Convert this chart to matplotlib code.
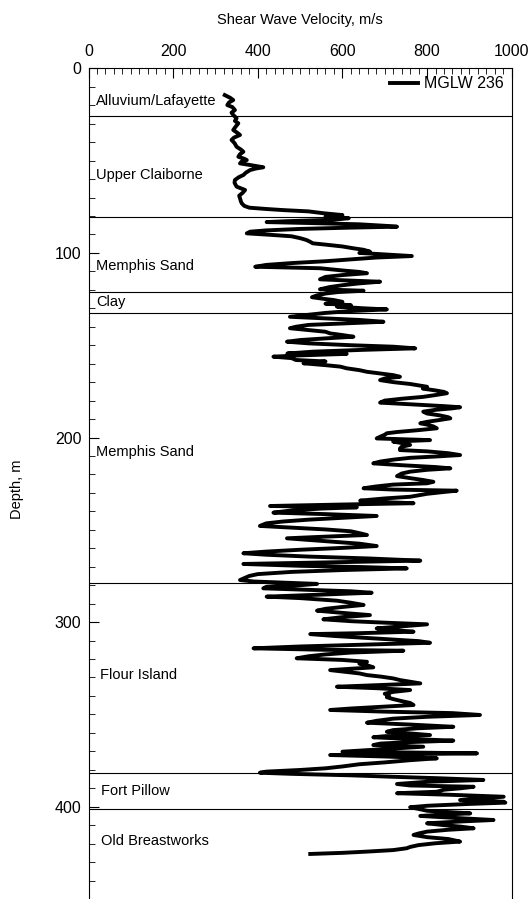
import matplotlib
matplotlib.use("Agg")
import matplotlib.pyplot as plt
from matplotlib.ticker import MultipleLocator

plt.rcParams['font.family'] = ['Liberation Sans', 'DejaVu Sans']

# shear wave velocity log, MGLW 236
depth_m = [
    14.5, 16, 17.2, 18.5, 19.9, 21, 22.6, 24, 25.3, 27,
    28.5, 29.8, 31.5, 33.4, 35, 36.1, 37.5, 38.8, 40.5, 42.5,
    44, 45.2, 46.5, 47.9, 49, 49.7, 50.5, 51.5, 52.5, 53.6,
    54.3, 55.1, 56.5, 57.8, 59, 60.5, 62, 64.1, 65.9, 67.5,
    69, 70.4, 72, 73.1, 74.5, 75.5, 76.2, 76.8, 77.5, 78.5,
    79.5, 80.3, 81.2, 82.0, 82.8, 83.3, 83.8, 84.5, 85.3, 85.8,
    86.3, 87, 87.8, 88.5, 89.4, 90.2, 91, 92, 93, 94,
    94.8, 95.5, 96.5, 97.5, 98.3, 99.3, 100, 100.8, 101.7, 102.5,
    103.5, 104.5, 105.5, 106.5, 107.5, 108.3, 109.5, 110.3, 111, 112,
    113, 114.3, 115, 115.6, 116.5, 117.5, 118.5, 119.7, 120.5, 121.2,
    122, 123, 124, 125, 125.5, 126.5, 127.5, 128.3, 129.1, 130,
    130.6, 131.5, 132.5, 133.5, 134.6, 135.5, 136.3, 137.3, 138.2, 139,
    140, 140.8, 141.8, 142.7, 143.6, 144.5, 145.4, 146.3, 147.2, 148.1,
    149, 150, 150.8, 151.7, 152.5, 153.5, 154.5, 154.7, 155.5, 156.2,
    157, 158, 158.8, 159.8, 160.8, 161.6, 162.5, 163.5, 164.4, 165.3,
    166.2, 167.1, 168, 168.9, 170, 171, 172.5, 173.5, 174.5, 175.3,
    176, 177, 178, 179, 180, 181.1, 182, 183, 183.6, 184.2,
    185, 186, 187, 188, 189, 189.6, 190.5, 191.5, 192.3, 193,
    194, 195, 196, 197, 197.7, 198.5, 199.5, 200.5, 201.4, 202.2,
    203, 204, 205, 206, 206.8, 207.5, 208.5, 209.5, 210.3, 211,
    212, 213, 214, 215, 216, 216.7, 217.5, 218.5, 219.5, 220.9,
    222, 223, 224, 224.8, 225.5, 226.5, 227.5, 228.2, 228.8, 229.5,
    230.5, 231.3, 232.1, 233, 234.2, 235, 235.6, 236.3, 237.1, 237.8,
    238.5, 239.5, 240.7, 241.5, 242.5, 243.5, 244.5, 245.5, 246.5, 247.9,
    248.8, 249.8, 250.8, 251.8, 252.8, 253.7, 254.6, 255.5, 256.5, 257.5,
    258.8, 259.8, 260.8, 261.8, 262.7, 263.5, 264.5, 265.5, 266.7, 267.5,
    268.5, 269.5, 270.2, 270.9, 271.8, 272.8, 274, 275, 276, 277.2,
    278, 279.3, 280, 280.8, 281.7, 282.5, 283.3, 284.1, 285, 286.2,
    287, 288.4, 289.5, 290.7, 291.8, 292.8, 293.8, 295, 296.2, 297.3,
    298.5, 299.5, 300.3, 301.2, 302.3, 303.4, 304.3, 305.2, 306, 306.5,
    307.5, 308.5, 309.5, 310.3, 311.2, 312.2, 313.2, 314.2, 315, 315.5,
    316.5, 317.5, 318.5, 319.6, 320.5, 321.5, 322.5, 323.5, 324.5, 325.3,
    326, 327, 327.8, 328.7, 329.5, 330.5, 331.4, 332.3, 333.2, 334,
    335, 335.8, 336.8, 337.8, 338.8, 339.8, 340.7, 341.7, 342.8, 343.8,
    344.9, 345.8, 346.8, 347.6, 348.5, 349.3, 350.3, 351.3, 352.3, 353.5,
    354.5, 355.5, 356.7, 357.5, 358.5, 359.4, 360.3, 361.2, 361.8, 362.4,
    363.3, 364.2, 365, 365.8, 366.6, 367.5, 368.5, 369.5, 370.2, 371.1,
    372, 372.8, 373.8, 374.8, 376, 377, 378.2, 379.2, 380.1, 381,
    381.6, 382.2, 383, 383.8, 384.6, 385.5, 386.5, 387.7, 388.5, 389.2,
    390, 390.8, 391.9, 392.7, 393.5, 394.6, 395.5, 396.4, 397.3, 397.8,
    398.5, 399.5, 400.3, 401.2, 402.2, 403, 403.6, 404.3, 405, 406,
    407.2, 408, 409, 410, 410.8, 411.7, 412.5, 413.5, 414.5, 415.3,
    416.5, 417.5, 418.9, 419.8, 420.8, 421.8, 422.5, 423.5, 424.3, 425,
    425.6,
]
vs_ms = [
    322, 335, 342, 332, 328, 340, 346, 338, 342, 350,
    346, 354, 348, 342, 352, 358, 344, 338, 345, 350,
    360, 366, 358, 354, 368, 374, 362, 358, 385, 413,
    395, 382, 372, 366, 355, 346, 345, 350, 370, 364,
    356, 358, 360, 362, 368, 380, 420, 460, 520, 555,
    600, 560, 615, 580, 470, 421, 520, 640, 700, 729,
    620, 500, 420, 382, 374, 430, 480, 500, 515, 524,
    530, 560, 600, 626, 650, 665, 640, 700, 764, 680,
    620, 560, 480, 420, 394, 547, 600, 640, 658, 600,
    560, 547, 620, 689, 640, 600, 570, 547, 650, 590,
    560, 540, 528, 560, 579, 600, 560, 620, 587, 650,
    705, 620, 560, 520, 476, 560, 640, 697, 600, 520,
    490, 476, 520, 560, 571, 600, 626, 560, 500, 469,
    520, 620, 720, 772, 650, 530, 470, 610, 500, 437,
    480, 490, 560, 508, 560, 595, 610, 640, 658, 690,
    720, 736, 700, 689, 720, 760, 800, 790, 820, 840,
    847, 820, 790, 740, 700, 689, 760, 840, 878, 860,
    820, 791, 800, 830, 850, 855, 830, 800, 784, 800,
    815, 823, 780, 730, 705, 700, 690, 681, 807, 720,
    740, 760, 740, 736, 736, 800, 850, 878, 820, 760,
    720, 690, 673, 740, 820, 855, 800, 760, 740, 729,
    760, 790, 815, 800, 720, 680, 650, 720, 870, 840,
    800, 780, 760, 700, 642, 700, 768, 600, 429, 634,
    550, 480, 437, 560, 681, 600, 520, 460, 420, 405,
    480, 560, 620, 640, 658, 560, 469, 520, 580, 640,
    681, 600, 500, 420, 366, 420, 520, 660, 784, 600,
    366, 500, 650, 752, 600, 480, 400, 380, 370, 358,
    390, 540, 500, 421, 413, 520, 620, 669, 560, 421,
    500, 587, 620, 650, 600, 560, 540, 600, 665, 600,
    555, 620, 700, 800, 740, 681, 720, 768, 640, 524,
    580, 650, 720, 780, 807, 650, 500, 390, 560, 744,
    620, 560, 520, 492, 600, 658, 640, 660, 673, 620,
    571, 610, 640, 658, 690, 720, 736, 760, 784, 700,
    587, 680, 760, 720, 700, 710, 705, 720, 740, 760,
    768, 700, 620, 571, 700, 860, 925, 800, 720, 680,
    658, 760, 862, 780, 720, 705, 760, 807, 700, 673,
    760, 862, 760, 690, 673, 791, 720, 650, 600, 918,
    571, 700, 823, 760, 700, 640, 600, 560, 500, 420,
    405, 480, 620, 720, 830, 933, 800, 729, 760, 910,
    880, 840, 823, 729, 850, 981, 930, 878, 981, 985,
    900, 800, 760, 780, 800, 860, 902, 840, 784, 860,
    957, 880, 800, 840, 880, 910, 850, 800, 780, 768,
    800, 850, 878, 820, 780, 760, 752, 720, 660, 600,
    524,
]

# layer boundaries (m) and unit names
boundaries = [25.7, 80.7, 121.0, 132.4, 278.7, 381.6, 401.0]
layer_names = ['Alluvium/Lafayette', 'Upper Claiborne', 'Memphis Sand', 'Clay',
               'Memphis Sand', 'Flour Island', 'Fort Pillow', 'Old Breastworks']
label_depths = [17.7, 57.8, 107.0, 126.6, 207.8, 328.6, 391.5, 418.6]
label_x = [18, 18, 18, 18, 18, 28, 30, 30]

fig = plt.figure(figsize=(5.29, 8.99), dpi=100)
ax = fig.add_axes([0.1673, 0.0, 0.8, 0.924])

ax.plot(vs_ms, depth_m, color='black', lw=2.8, label='MGLW 236')

for b in boundaries:
    ax.axhline(b, color='black', lw=0.8)

for name, d, x in zip(layer_names, label_depths, label_x):
    ax.text(x, d, name, fontsize=10.5, va='center', ha='left')

ax.set_xlim(0, 1000)
ax.set_ylim(450, 0)
ax.xaxis.set_ticks_position('top')
ax.xaxis.set_label_position('top')
ax.xaxis.set_major_locator(MultipleLocator(200))
ax.xaxis.set_minor_locator(MultipleLocator(20))
ax.yaxis.set_major_locator(MultipleLocator(100))
ax.yaxis.set_minor_locator(MultipleLocator(10))
ax.tick_params(which='both', direction='in', top=True, bottom=False,
               left=True, right=False, labelsize=11.5)
ax.tick_params(axis='x', which='major', length=7.5, pad=7)
ax.tick_params(axis='y', which='major', length=7.5, pad=5)
ax.tick_params(which='minor', length=4)
ax.spines['bottom'].set_visible(False)

ax.set_xlabel('Shear Wave Velocity, m/s', fontsize=10.5, labelpad=14)
fig.text(17 / 529, 1 - 489 / 899, 'Depth, m', rotation=90,
         fontsize=10.5, ha='center', va='center')

ax.legend(loc='upper right', frameon=False, fontsize=11.5, handlelength=1.7,
          handletextpad=0.4, borderaxespad=0.1)

fig.savefig('out.png', dpi=100)
